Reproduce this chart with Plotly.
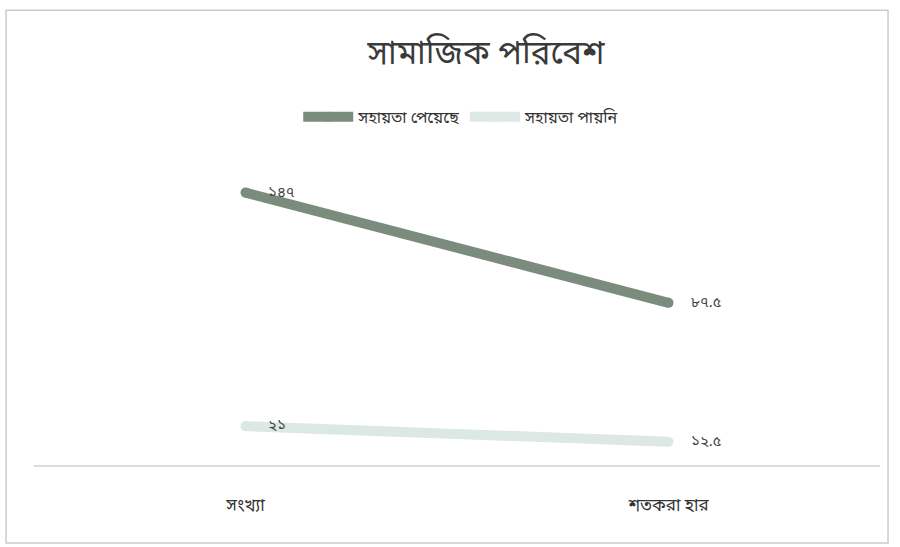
import plotly.graph_objects as go

# Data
categories = ["সংখ্যা", "শতকরা হার"]
received = [147, 87.5]
not_received = [21, 12.5]
received_labels = ["১৪৭", "৮৭.৫"]
not_received_labels = ["২১", "১২.৫"]
series_names = ["সহায়তা পেয়েছে", "সহায়তা পায়নি"]
title_text = "সামাজিক পরিবেশ"

dark = "#7b8b7e"
light = "#dbe8e3"
font_family = "Noto Sans Bengali, Noto Sans, Lato, sans-serif"

fig = go.Figure()
for vals, name, color in [(received, series_names[0], dark),
                          (not_received, series_names[1], light)]:
    fig.add_trace(go.Scatter(
        x=categories, y=vals, name=name, mode="lines+markers",
        line=dict(color=color, width=10),
        marker=dict(color=color, size=10),
        hoverinfo="skip",
    ))

annotations = []
for vals, labels in [(received, received_labels), (not_received, not_received_labels)]:
    for cat, v, lab in zip(categories, vals, labels):
        annotations.append(dict(
            x=cat, y=v, xref="x", yref="y", text=lab, showarrow=False,
            xanchor="left", yanchor="middle", xshift=20,
            font=dict(size=15, color="#444444", family=font_family),
        ))

fig.update_layout(
    width=900, height=547,
    margin=dict(l=34, r=20, t=150, b=82),
    paper_bgcolor="white", plot_bgcolor="white",
    title=dict(text=title_text, x=0.54, xanchor="center", y=0.905, yanchor="middle",
               font=dict(size=33, color="#3a3a3a", family=font_family)),
    legend=dict(orientation="h", x=0.505, xanchor="center", y=1.105, yanchor="middle",
                font=dict(size=16, color="#333333", family=font_family),
                itemwidth=50, tracegroupgap=20),
    showlegend=True,
    annotations=annotations,
    xaxis=dict(type="category", range=[-0.5, 1.5], showgrid=False, zeroline=False,
               showline=True, linecolor="#dcdcdc", linewidth=1.5, ticks="",
               tickfont=dict(size=17, color="#333333", family=font_family),
               ticklabelstandoff=24),
    yaxis=dict(range=[0, 170], visible=False, showgrid=False, zeroline=False),
    shapes=[dict(type="rect", xref="paper", yref="paper",
                 x0=-0.033, x1=1.0095, y0=-0.248, y1=1.444,
                 line=dict(color="#c9cdcb", width=1.5), layer="below")],
)

fig.write_html("out.html")
